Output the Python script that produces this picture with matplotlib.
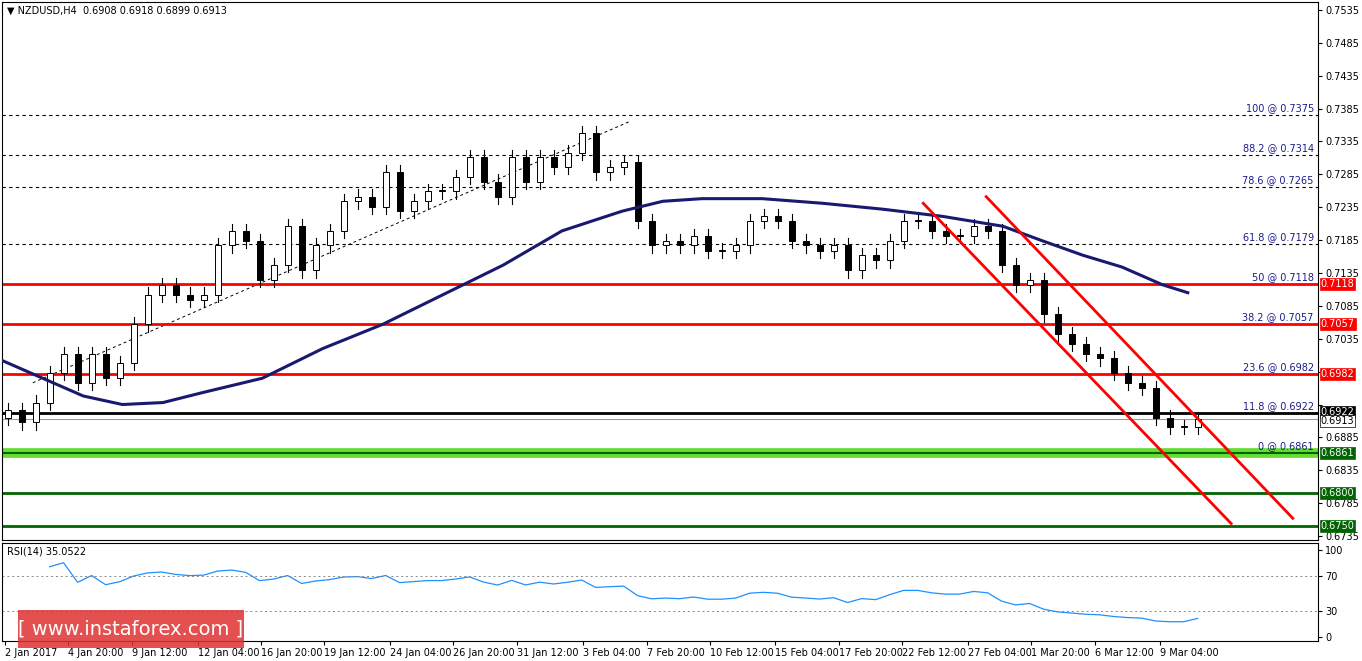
import numpy as np
import matplotlib
matplotlib.use("Agg")
import matplotlib.pyplot as plt
from matplotlib.patches import Rectangle

closes = [0.6926, 0.6908, 0.6938, 0.6983, 0.7012, 0.6968, 0.7012, 0.6975, 0.6998, 0.7057,
          0.7102, 0.7117, 0.7102, 0.7094, 0.7102, 0.7177, 0.7199, 0.7184, 0.7124, 0.7147,
          0.7206, 0.7139, 0.7177, 0.7199, 0.7244, 0.7251, 0.7236, 0.7288, 0.7229, 0.7244,
          0.7259, 0.7259, 0.7281, 0.7311, 0.7274, 0.7251, 0.7311, 0.7274, 0.7311, 0.7296,
          0.7318, 0.7348, 0.7288, 0.7296, 0.7303, 0.7214, 0.7177, 0.7184, 0.7177, 0.7191,
          0.7169, 0.7169, 0.7177, 0.7214, 0.7221, 0.7214, 0.7184, 0.7177, 0.7169, 0.7177,
          0.7139, 0.7162, 0.7154, 0.7184, 0.7214, 0.7214, 0.7199, 0.7191, 0.7191, 0.7206,
          0.7199, 0.7147, 0.7117, 0.7124, 0.7072, 0.7042, 0.7027, 0.7012, 0.7005, 0.6983,
          0.6968, 0.6960, 0.6915, 0.6901, 0.6901, 0.6913]
first_open = 0.6915
wick = 0.0011

ma_idx = [-0.4, 2.5, 5.4, 8.2, 11.1, 13.9, 18.2, 22.5, 26.8, 31.1, 35.4, 39.6, 43.9,
          46.8, 49.6, 53.9, 58.2, 62.5, 66.8, 71.1, 73.9, 76.8, 79.6, 82.5, 84.3]
ma_val = [0.7002, 0.6975, 0.6948, 0.6935, 0.6938, 0.6953, 0.6975, 0.7020, 0.7057, 0.7102,
          0.7147, 0.7199, 0.7229, 0.7244, 0.7248, 0.7248, 0.7241, 0.7232, 0.7221, 0.7206,
          0.7184, 0.7162, 0.7144, 0.7117, 0.7105]

fib_levels = [0.7375, 0.7314, 0.7265, 0.7179, 0.7118, 0.7057, 0.6982, 0.6922, 0.6861]
fib_names = ["100", "88.2", "78.6", "61.8", "50", "38.2", "23.6", "11.8", "0"]
red_levels = [0.7118, 0.7057, 0.6982]
green_levels = [0.6861, 0.6800, 0.6750]
black_level = 0.6922
last_price = 0.6913

chan1 = [(65.4, 0.7241), (87.4, 0.6754)]
chan2 = [(69.9, 0.7251), (91.8, 0.6762)]
trend = [(1.8, 0.6968), (44.5, 0.7366)]

tick_idx = [-0.2, 4.3, 8.9, 13.6, 18.1, 22.6, 27.3, 31.8, 36.4, 41.1, 45.7, 50.2, 54.8,
            59.4, 63.9, 68.6, 73.1, 77.7, 82.3]
tick_labels = ["2 Jan 2017", "4 Jan 20:00", "9 Jan 12:00", "12 Jan 04:00", "16 Jan 20:00",
               "19 Jan 12:00", "24 Jan 04:00", "26 Jan 20:00", "31 Jan 12:00", "3 Feb 04:00",
               "7 Feb 20:00", "10 Feb 12:00", "15 Feb 04:00", "17 Feb 20:00", "22 Feb 12:00",
               "27 Feb 04:00", "1 Mar 20:00", "6 Mar 12:00", "9 Mar 04:00"]

W, H = 1362, 661
fig = plt.figure(figsize=(W / 100, H / 100), dpi=100)
ax = fig.add_axes([2 / W, (H - 540) / H, 1316 / W, 538 / H])
rax = fig.add_axes([2 / W, (H - 641) / H, 1316 / W, 98 / H])
xlim = (-0.4, 93.6)

# candles
opens = [first_open] + closes[:-1]
for i, (o, c) in enumerate(zip(opens, closes)):
    hi, lo = max(o, c) + wick, min(o, c) - wick
    ax.plot([i, i], [lo, hi], color="black", lw=0.8, zorder=3)
    face = "white" if c >= o else "black"
    ax.add_patch(Rectangle((i - 0.22, min(o, c)), 0.44, max(abs(c - o), 0.00015),
                           facecolor=face, edgecolor="black", lw=0.7, zorder=4))

ax.plot(ma_idx, ma_val, color="#191970", lw=2.2, zorder=5)

for lv in fib_levels[:4]:
    ax.axhline(lv, color="black", lw=0.8, ls=(0, (3, 3)), zorder=1)
for lv in red_levels:
    ax.axhline(lv, color="red", lw=2, zorder=2)
ax.axhline(black_level, color="black", lw=2, zorder=2)
ax.axhline(last_price, color="#999999", lw=0.8, zorder=2)
ax.axhline(green_levels[0], color="#66dd33", lw=7, zorder=2)
ax.axhline(green_levels[0], color="#006400", lw=1.5, zorder=2)
for lv in green_levels[1:]:
    ax.axhline(lv, color="#006400", lw=2, zorder=2)

for (x0, y0), (x1, y1) in [chan1, chan2]:
    ax.plot([x0, x1], [y0, y1], color="red", lw=2, zorder=6)
ax.plot([trend[0][0], trend[1][0]], [trend[0][1], trend[1][1]], color="black",
        lw=0.7, ls=(0, (3, 3)), zorder=1)

for lv, nm in zip(fib_levels, fib_names):
    ax.text(93.3, lv + 0.0003, f"{nm} @ {lv:.4f}", color="#1a1a8c", fontsize=7,
            ha="right", va="bottom", zorder=7)

ax.set_xlim(*xlim)
ax.set_ylim(0.6729, 0.7547)
ax.yaxis.tick_right()
yt = np.round(np.arange(0.6735, 0.7536, 0.0050), 4)
box_levels = red_levels + [black_level, last_price] + green_levels
yt_lab = [("" if min(abs(v - b) for b in box_levels) < 0.0015 else f"{v:.4f}") for v in yt]
ax.set_yticks(yt)
ax.set_yticklabels(yt_lab, fontsize=7)
ax.set_xticks([])
ax.tick_params(axis="y", length=3, pad=2)

# highlighted price labels
boxes = [(lv, "red", "white", 0) for lv in red_levels] + \
        [(black_level, "black", "white", 0.0002), (last_price, "white", "black", -0.0003)] + \
        [(lv, "#006400", "white", 0) for lv in green_levels]
for lv, bg, fg, off in boxes:
    ax.text(1.002, lv + off, f"{lv:.4f}", transform=ax.get_yaxis_transform(), fontsize=7,
            color=fg, va="center", ha="left", zorder=8,
            bbox=dict(boxstyle="square,pad=0.1", fc=bg, ec=bg if bg != "white" else "black", lw=0.5))

ax.text(0.004, 0.993, "▼ NZDUSD,H4  0.6908 0.6918 0.6899 0.6913", transform=ax.transAxes,
        fontsize=7, va="top", ha="left")

# RSI from closes (Wilder smoothing, warm-up with expanding mean)
d = np.diff(closes)
g = np.where(d > 0, d, 0.0)
l = np.where(d < 0, -d, 0.0)
n = 14
rsi = [np.nan]
ag = al = 0.0
for k in range(len(d)):
    m = min(k + 1, n)
    ag = (ag * (m - 1) + g[k]) / m
    al = (al * (m - 1) + l[k]) / m
    rsi.append(100 - 100 / (1 + ag / al) if al > 0 else 100)
rsi[:3] = [np.nan] * 3
rax.plot(range(len(closes)), rsi, color="#1e90ff", lw=0.9)
for lv in (70, 30):
    rax.axhline(lv, color="#888888", lw=0.7, ls=(0, (2, 3)))
rax.set_xlim(*xlim)
rax.set_ylim(-5, 108)
rax.yaxis.tick_right()
rax.set_yticks([100, 70, 30, 0])
rax.set_yticklabels(["100", "70", "30", "0"], fontsize=7)
rax.tick_params(axis="y", length=3, pad=2)
rax.set_xticks(tick_idx)
rax.set_xticklabels(tick_labels, fontsize=7, ha="left")
rax.tick_params(axis="x", length=3, pad=2)
rax.text(0.004, 0.96, "RSI(14) 35.0522", transform=rax.transAxes, fontsize=7, va="top")

fig.patches.append(Rectangle((18 / W, (H - 648) / H), 226 / W, 38 / H, transform=fig.transFigure,
                             fc="#e03030", ec="none", alpha=0.85, zorder=10))
fig.text(131 / W, (H - 629) / H, "[ www.instaforex.com ]", color="white", fontsize=14,
         ha="center", va="center", zorder=11, family="DejaVu Sans")

fig.savefig("out.png", dpi=100)
